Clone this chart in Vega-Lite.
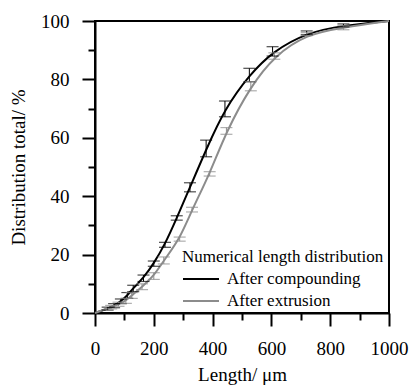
{
  "$schema": "https://vega.github.io/schema/vega-lite/v6.json",
  "autosize": {"type": "none"},
  "width": 294,
  "height": 292,
  "padding": {"left": 95, "top": 21, "right": 23, "bottom": 72},
  "background": "white",
  "config": {
    "view": {"stroke": "black", "strokeWidth": 2},
    "font": "Liberation Serif, serif"
  },
  "data": {
    "values": [
      {"series": "After compounding", "x": 0, "y": 0},
      {"series": "After compounding", "x": 43, "y": 1.5, "lo": 1.0, "hi": 2.0},
      {"series": "After compounding", "x": 65, "y": 2.5, "lo": 1.8, "hi": 3.2},
      {"series": "After compounding", "x": 88, "y": 4.0, "lo": 3.2, "hi": 4.8},
      {"series": "After compounding", "x": 110, "y": 6.0, "lo": 5.0, "hi": 7.0},
      {"series": "After compounding", "x": 130, "y": 8.5, "lo": 7.3, "hi": 9.5},
      {"series": "After compounding", "x": 165, "y": 12.0, "lo": 10.8, "hi": 13.0},
      {"series": "After compounding", "x": 200, "y": 17.0, "lo": 16.0, "hi": 17.8},
      {"series": "After compounding", "x": 238, "y": 23.5, "lo": 22.5, "hi": 24.2},
      {"series": "After compounding", "x": 278, "y": 32.5, "lo": 31.8, "hi": 33.3},
      {"series": "After compounding", "x": 323, "y": 43.0, "lo": 41.5, "hi": 44.6},
      {"series": "After compounding", "x": 378, "y": 56.0, "lo": 53.5, "hi": 59.2},
      {"series": "After compounding", "x": 442, "y": 70.0, "lo": 67.2, "hi": 72.6},
      {"series": "After compounding", "x": 525, "y": 81.5, "lo": 79.2, "hi": 83.8},
      {"series": "After compounding", "x": 604, "y": 89.5, "lo": 88.0, "hi": 91.2},
      {"series": "After compounding", "x": 720, "y": 96.0, "lo": 95.3, "hi": 96.6},
      {"series": "After compounding", "x": 845, "y": 98.5, "lo": 98.0, "hi": 99.0},
      {"series": "After compounding", "x": 1000, "y": 100},
      {"series": "After extrusion", "x": 0, "y": 0},
      {"series": "After extrusion", "x": 55, "y": 2.0, "lo": 1.4, "hi": 2.6},
      {"series": "After extrusion", "x": 80, "y": 3.0, "lo": 2.3, "hi": 3.7},
      {"series": "After extrusion", "x": 105, "y": 4.2, "lo": 3.3, "hi": 5.0},
      {"series": "After extrusion", "x": 125, "y": 6.0, "lo": 5.0, "hi": 7.0},
      {"series": "After extrusion", "x": 160, "y": 9.0, "lo": 8.0, "hi": 10.0},
      {"series": "After extrusion", "x": 200, "y": 12.7, "lo": 11.5, "hi": 13.8},
      {"series": "After extrusion", "x": 234, "y": 18.0, "lo": 16.8, "hi": 19.2},
      {"series": "After extrusion", "x": 288, "y": 25.3, "lo": 24.6, "hi": 26.0},
      {"series": "After extrusion", "x": 330, "y": 35.4, "lo": 34.6, "hi": 36.2},
      {"series": "After extrusion", "x": 390, "y": 47.6, "lo": 46.9, "hi": 48.4},
      {"series": "After extrusion", "x": 447, "y": 62.3, "lo": 61.2, "hi": 63.5},
      {"series": "After extrusion", "x": 530, "y": 77.7, "lo": 76.1, "hi": 79.2},
      {"series": "After extrusion", "x": 610, "y": 88.0, "lo": 86.9, "hi": 89.1},
      {"series": "After extrusion", "x": 720, "y": 95.5, "lo": 95.0, "hi": 96.0},
      {"series": "After extrusion", "x": 845, "y": 97.8, "lo": 97.0, "hi": 98.4},
      {"series": "After extrusion", "x": 1000, "y": 100}
    ]
  },
  "encoding": {
    "x": {
      "field": "x", "type": "quantitative",
      "scale": {"domain": [0, 1000], "nice": false, "zero": false},
      "axis": {
        "title": "Length/ μm",
        "values": [0, 100, 200, 300, 400, 500, 600, 700, 800, 900, 1000],
        "labelExpr": "datum.value % 200 === 0 ? datum.label : ''",
        "format": "d",
        "tickSize": {"condition": {"test": "datum.value % 200 === 0", "value": 13}, "value": 7},
        "grid": false,
        "domainColor": "black", "domainWidth": 2,
        "tickColor": "black", "tickWidth": 2,
        "labelFont": "Liberation Serif, serif", "labelFontSize": 19,
        "labelPadding": 13, "labelFlush": false, "labelOverlap": false,
        "titleFont": "Liberation Serif, serif", "titleFontSize": 19, "titleFontWeight": "normal",
        "titlePadding": 7
      }
    },
    "y": {
      "field": "y", "type": "quantitative",
      "scale": {"domain": [0, 100], "nice": false},
      "axis": {
        "title": "Distribution total/ %",
        "values": [0, 10, 20, 30, 40, 50, 60, 70, 80, 90, 100],
        "labelExpr": "datum.value % 20 === 0 ? datum.label : ''",
        "tickSize": {"condition": {"test": "datum.value % 20 === 0", "value": 13}, "value": 7},
        "grid": false,
        "domainColor": "black", "domainWidth": 2,
        "tickColor": "black", "tickWidth": 2,
        "labelFont": "Liberation Serif, serif", "labelFontSize": 19,
        "labelPadding": 13, "labelFlush": false, "labelOverlap": false,
        "titleFont": "Liberation Serif, serif", "titleFontSize": 19, "titleFontWeight": "normal",
        "titlePadding": 12
      }
    },
    "color": {
      "field": "series", "type": "nominal",
      "scale": {"domain": ["After compounding", "After extrusion"], "range": ["#000000", "#8c8c8c"]},
      "legend": {
        "title": "Numerical length distribution",
        "orient": "none", "legendX": 87, "legendY": 228,
        "symbolType": "stroke", "symbolSize": 1296, "symbolStrokeWidth": 2,
        "titleFont": "Liberation Serif, serif", "titleFontSize": 17, "titleFontWeight": "normal",
        "labelFont": "Liberation Serif, serif", "labelFontSize": 17,
        "labelOffset": 7, "clipHeight": 22, "rowPadding": 0, "titlePadding": 2,
        "labelLimit": 300, "titleLimit": 400
      }
    }
  },
  "layer": [
    {
      "mark": {"type": "line", "interpolate": "basis", "strokeWidth": 2}
    },
    {
      "transform": [{"filter": "isValid(datum.lo)"}],
      "mark": {"type": "rule", "strokeWidth": 1},
      "encoding": {
        "y": {"field": "lo", "type": "quantitative"},
        "y2": {"field": "hi"},
        "color": {"field": "series", "type": "nominal", "legend": null}
      }
    },
    {
      "transform": [{"filter": "isValid(datum.lo)"}],
      "mark": {"type": "tick", "orient": "horizontal", "size": 12, "thickness": 1.2},
      "encoding": {
        "y": {"field": "lo", "type": "quantitative"},
        "color": {"field": "series", "type": "nominal", "legend": null}
      }
    },
    {
      "transform": [{"filter": "isValid(datum.lo)"}],
      "mark": {"type": "tick", "orient": "horizontal", "size": 12, "thickness": 1.2},
      "encoding": {
        "y": {"field": "hi", "type": "quantitative"},
        "color": {"field": "series", "type": "nominal", "legend": null}
      }
    }
  ]
}
